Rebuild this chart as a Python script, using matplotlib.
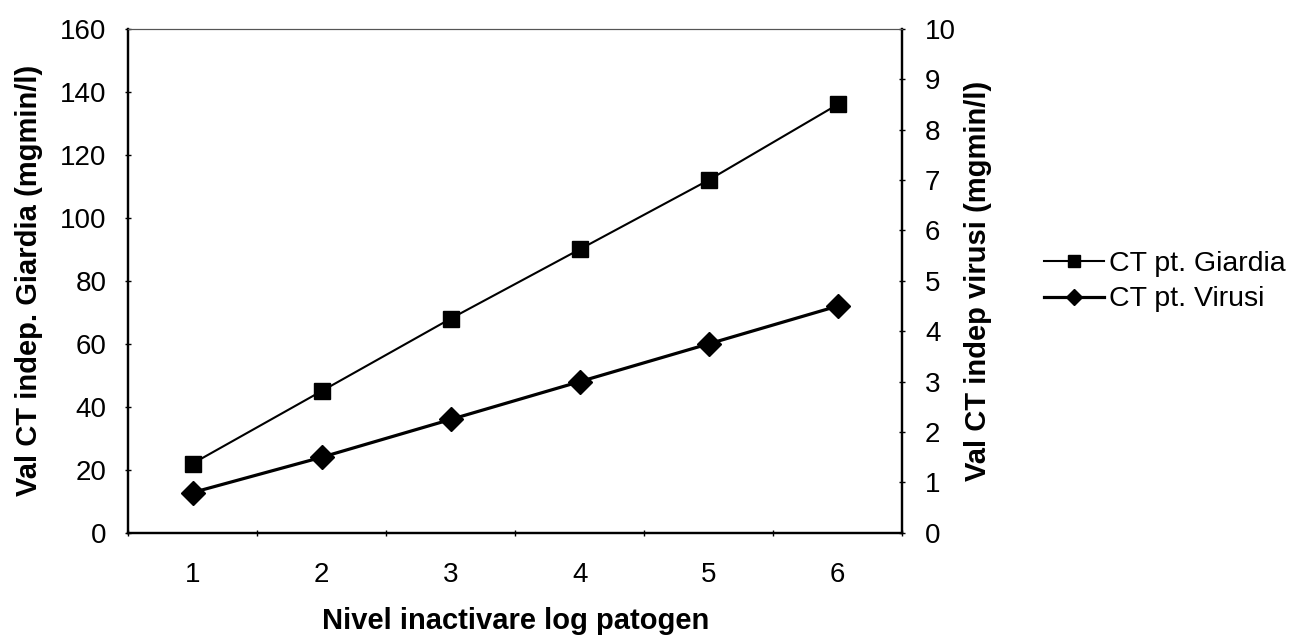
import numpy as np
import matplotlib.pyplot as plt

plt.rcParams['font.family'] = ['Liberation Sans', 'DejaVu Sans']

levels = [1, 2, 3, 4, 5, 6]
ct_giardia = [22, 45, 68, 90, 112, 136]
ct_virusi = [0.8, 1.5, 2.25, 3.0, 3.75, 4.5]

fig = plt.figure(figsize=(13, 6.42), dpi=100)
ax = fig.add_axes([0.0985, 0.170, 0.5955, 0.785])
ax2 = ax.twinx()

l1, = ax.plot(levels, ct_giardia, color='black', lw=1.5, marker='s',
              markersize=12, label='CT pt. Giardia')
l2, = ax2.plot(levels, ct_virusi, color='black', lw=2.3, marker='D',
               markersize=12, label='CT pt. Virusi')

ax.set_xlim(0.5, 6.5)
ax.set_ylim(0, 160)
ax2.set_ylim(0, 10)
ax.set_yticks(np.arange(0, 161, 20))
ax2.set_yticks(np.arange(0, 11, 1))
ax.set_xticks(levels)
ax.set_xticks(np.arange(0.5, 6.6, 1), minor=True)

ax.tick_params(axis='x', which='major', length=0, labelsize=20, pad=21)
ax.tick_params(axis='x', which='minor', length=4, direction='inout', width=1)
ax.tick_params(axis='y', length=5, direction='inout', width=1, labelsize=20, pad=13)
ax2.tick_params(axis='y', length=5, direction='inout', width=1, labelsize=20, pad=14)

for a in (ax, ax2):
    for side in ('left', 'right', 'bottom'):
        a.spines[side].set_linewidth(1.6)
    a.spines['top'].set_linewidth(0.8)
    a.spines['top'].set_color('#555555')

ax.set_xlabel('Nivel inactivare log patogen', fontsize=21, fontweight='bold', labelpad=14)
ax.set_ylabel('Val CT indep. Giardia (mgmin/l)', fontsize=21, fontweight='bold', labelpad=12)
ax2.set_ylabel('Val CT indep virusi (mgmin/l)', fontsize=21, fontweight='bold', labelpad=6)

fig.legend(handles=[l1, l2], loc='center left', bbox_to_anchor=(0.803, 0.5615),
           frameon=False, fontsize=20.5, handlelength=2.1, handletextpad=0.2,
           labelspacing=0.35, markerscale=0.7, borderpad=0, borderaxespad=0)

fig.savefig('out.png', dpi=100)
